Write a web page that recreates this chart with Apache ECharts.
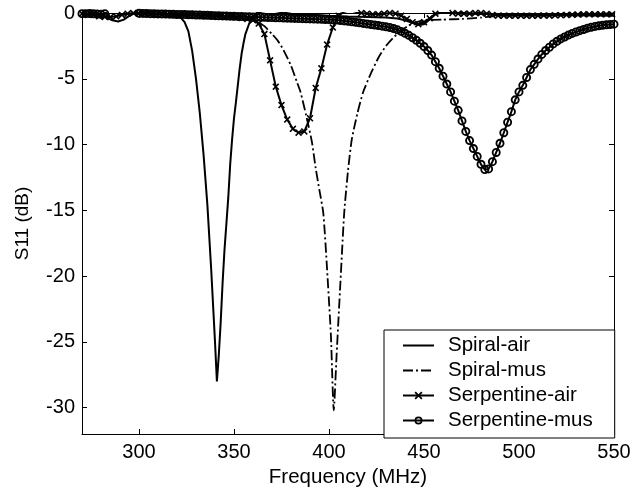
<!DOCTYPE html>
<html>
<head>
<meta charset="utf-8">
<script src="https://cdn.jsdelivr.net/npm/echarts@6/dist/echarts.min.js"></script>
<style>
html,body{margin:0;padding:0;background:#fff;}
#chart{width:644px;height:500px;}
</style>
</head>
<body>
<div id="chart"></div>
<script>
const xTicks = [300, 350, 400, 450, 500, 550];
const yTicks = [0, -5, -10, -15, -20, -25, -30];
const seriesNames = ['Spiral-air', 'Spiral-mus', 'Serpentine-air', 'Serpentine-mus'];

const spiralAirF  = [270,276,280,283,286,289,292,295,298,302,310,316,320,322,324,326,328,330,332,334,336,338,340,341,342,343,344,345,346,347,348,349,350,351,352,353,354,355,356,358,360,362,366,370,375,380,390,400,410,420,430,436,440,444,447,450,453,456,460,466,475,490,510,530,550];
const spiralAirDb = [-0.02,-0.05,-0.15,-0.35,-0.55,-0.65,-0.5,-0.2,0.0,0.05,-0.05,-0.1,-0.2,-0.35,-0.7,-1.4,-2.9,-5.0,-7.6,-10.8,-14.6,-19.5,-25.0,-28.0,-26.0,-23.5,-20.5,-18.0,-16.0,-14.0,-11.5,-9.6,-8.0,-6.8,-5.5,-4.2,-3.1,-2.3,-1.6,-0.8,-0.3,0.0,0.15,0.2,0.05,-0.05,-0.12,-0.2,-0.26,-0.3,-0.35,-0.42,-0.55,-0.75,-0.9,-0.85,-0.5,-0.1,0.08,0.05,-0.05,-0.1,-0.15,-0.18,-0.2];

const spiralMusF  = [270,290,310,330,350,356,360,362,366,370,373,376,380,383,385,388,391,393,395,397,399,401,402.5,404,406,408,410,412,415,418,422,426,430,434,438,442,446,450,460,470,480,490,500,520,550];
const spiralMusDb = [-0.05,-0.08,-0.1,-0.15,-0.2,-0.25,-0.4,-0.6,-1.0,-1.6,-2.1,-2.8,-4.0,-5.2,-6.0,-7.8,-9.8,-11.8,-13.5,-15.2,-19.5,-24.5,-30.2,-26.0,-20.5,-15.2,-12.0,-9.6,-7.6,-6.0,-4.6,-3.4,-2.5,-1.85,-1.35,-0.95,-0.7,-0.55,-0.5,-0.45,-0.35,-0.2,-0.15,-0.1,-0.05];

const serpAirF  = [270,273,276,279,282,285,288,291,294,297,300,303,306,309,312,315,318,321,324,327,330,333,336,339,342,345,348,351,354,357,360,363,366,369,372,375,378,381,384,387,390,393,396,399,402,405,408,411,414,417,420,423,426,429,432,435,438,441,444,447,450,453,456,459,462,465,468,471,474,477,480,483,486,489,492,495,498,501,504,507,510,513,516,519,522,525,528,531,534,537,540,543,546,549];
const serpAirDb = [-0.05,-0.1,-0.15,-0.25,-0.3,-0.3,-0.25,-0.15,-0.05,0.0,-0.02,-0.04,-0.06,-0.08,-0.1,-0.11,-0.13,-0.14,-0.15,-0.17,-0.18,-0.2,-0.21,-0.23,-0.25,-0.27,-0.3,-0.33,-0.38,-0.45,-0.55,-0.8,-1.6,-3.6,-5.6,-7.0,-8.1,-8.8,-9.1,-9.0,-8.0,-5.7,-4.2,-2.4,-1.1,-0.2,0.1,0.2,0.1,0.0,-0.05,-0.1,-0.1,-0.05,0.0,-0.05,-0.2,-0.45,-0.7,-0.85,-0.7,-0.4,-0.05,0.05,0.05,0.0,-0.05,-0.05,-0.05,0.0,0.0,-0.05,-0.15,-0.2,-0.2,-0.21,-0.2,-0.2,-0.21,-0.2,-0.2,-0.19,-0.2,-0.18,-0.17,-0.15,-0.13,-0.12,-0.1,-0.1,-0.1,-0.1,-0.1,-0.1];

const serpMusF  = [270,272,274,276,278,280,282,284,286,288,290,292,294,296,298,300,302,304,306,308,310,312,314,316,318,320,322,324,326,328,330,332,334,336,338,340,342,344,346,348,350,352,354,356,358,360,362,364,366,368,370,372,374,376,378,380,382,384,386,388,390,392,394,396,398,400,402,404,406,408,410,412,414,416,418,420,422,424,426,428,430,432,434,436,438,440,442,444,446,448,450,452,454,456,458,460,462,464,466,468,470,472,474,476,478,480,482,484,486,488,490,492,494,496,498,500,502,504,506,508,510,512,514,516,518,520,522,524,526,528,530,532,534,536,538,540,542,544,546,548,550];
const serpMusDb = [-0.05,-0.05,-0.04,-0.06,-0.08,-0.1,-0.05,0.3,0.4,0.45,0.45,0.4,0.35,0.25,0.1,-0.02,-0.03,-0.04,-0.05,-0.06,-0.07,-0.07,-0.08,-0.09,-0.1,-0.11,-0.11,-0.12,-0.13,-0.14,-0.15,-0.16,-0.17,-0.18,-0.19,-0.2,-0.21,-0.22,-0.23,-0.24,-0.25,-0.26,-0.27,-0.28,-0.29,-0.3,-0.31,-0.32,-0.33,-0.34,-0.35,-0.36,-0.37,-0.38,-0.39,-0.4,-0.41,-0.42,-0.43,-0.44,-0.45,-0.46,-0.47,-0.48,-0.49,-0.5,-0.52,-0.54,-0.57,-0.6,-0.63,-0.67,-0.71,-0.75,-0.79,-0.83,-0.87,-0.91,-0.95,-1.0,-1.05,-1.1,-1.18,-1.28,-1.4,-1.54,-1.7,-1.88,-2.08,-2.3,-2.55,-2.85,-3.2,-3.7,-4.2,-4.8,-5.4,-6.0,-6.7,-7.4,-8.2,-9.0,-9.7,-10.3,-10.9,-11.5,-11.9,-11.85,-11.3,-10.6,-9.9,-9.1,-8.3,-7.5,-6.6,-6.0,-5.5,-4.9,-4.3,-3.9,-3.5,-3.15,-2.85,-2.6,-2.35,-2.15,-1.97,-1.82,-1.68,-1.55,-1.44,-1.34,-1.25,-1.15,-1.08,-1.02,-0.97,-0.93,-0.9,-0.87,-0.85];

function zip(f, d) { return f.map((v, i) => [v, d[i]]); }

const xSymbol = 'path://M0,1.6L1.6,0L5,3.4L8.4,0L10,1.6L6.6,5L10,8.4L8.4,10L5,6.6L1.6,10L0,8.4L3.4,5Z';
const ringSymbol = 'path://M5,0A5,5 0 1,0 5,10A5,5 0 1,0 5,0ZM5,2.1A2.9,2.9 0 1,1 5,7.9A2.9,2.9 0 1,1 5,2.1Z';

const FONT = 'Liberation Sans, Arial, Helvetica, sans-serif';
const chart = echarts.init(document.getElementById('chart'), null, {renderer: 'canvas'});

const axisLineStyle = {show: true, onZero: false, lineStyle: {color: '#000', width: 1}};

chart.setOption({
  animation: false,
  backgroundColor: '#fff',
  grid: {left: 82, right: 30, top: 13, bottom: 66, containLabel: false},
  xAxis: [{
    type: 'value', min: 270, max: 550, position: 'bottom',
    axisLine: axisLineStyle,
    axisTick: {show: true, inside: true, length: 5, customValues: xTicks, lineStyle: {color: '#000'}},
    axisLabel: {customValues: xTicks, fontSize: 20, color: '#000', fontFamily: FONT, margin: 8},
    splitLine: {show: false},
    name: 'Frequency (MHz)', nameLocation: 'middle', nameGap: 32,
    nameTextStyle: {fontSize: 20.5, color: '#000', fontFamily: FONT}
  }, {
    type: 'value', min: 270, max: 550, position: 'top',
    axisLine: axisLineStyle,
    axisTick: {show: true, inside: true, length: 5, customValues: xTicks, lineStyle: {color: '#000'}},
    axisLabel: {show: false},
    splitLine: {show: false}
  }],
  yAxis: [{
    type: 'value', min: -32, max: 0, position: 'left',
    axisLine: axisLineStyle,
    axisTick: {show: true, inside: true, length: 5, customValues: yTicks, lineStyle: {color: '#000'}},
    axisLabel: {customValues: yTicks, fontSize: 20, color: '#000', fontFamily: FONT, margin: 7},
    splitLine: {show: false},
    name: 'S11 (dB)', nameLocation: 'middle', nameGap: 50,
    nameTextStyle: {fontSize: 19, color: '#000', fontFamily: FONT}
  }, {
    type: 'value', min: -32, max: 0, position: 'right',
    axisLine: axisLineStyle,
    axisTick: {show: true, inside: true, length: 5, customValues: yTicks, lineStyle: {color: '#000'}},
    axisLabel: {show: false},
    splitLine: {show: false}
  }],
  legend: {
    orient: 'vertical', left: 384, top: 330,
    padding: [5, 22, 7, 18], itemGap: 4,
    itemWidth: 31, itemHeight: 10,
    backgroundColor: '#fff', borderColor: '#000', borderWidth: 1, borderRadius: 0,
    textStyle: {fontSize: 20.5, lineHeight: 20, color: '#000', fontFamily: FONT, padding: [0, 0, 0, 9]},
    data: [
      {name: seriesNames[0], itemStyle: {opacity: 0}},
      {name: seriesNames[1], itemStyle: {opacity: 0}},
      {name: seriesNames[2]},
      {name: seriesNames[3]}
    ]
  },
  series: [{
    name: seriesNames[0], type: 'line', data: zip(spiralAirF, spiralAirDb),
    symbol: 'none', clip: true,
    lineStyle: {color: '#000', width: 2}, itemStyle: {color: '#000'}
  }, {
    name: seriesNames[1], type: 'line', data: zip(spiralMusF, spiralMusDb),
    symbol: 'none', clip: true, smooth: 0.2,
    lineStyle: {color: '#000', width: 1.8, type: [10, 3, 2, 3]}, itemStyle: {color: '#000'}
  }, {
    name: seriesNames[2], type: 'line', data: zip(serpAirF, serpAirDb),
    symbol: xSymbol, symbolSize: 7, showAllSymbol: true, clip: true,
    lineStyle: {color: '#000', width: 2}, itemStyle: {color: '#000'}
  }, {
    name: seriesNames[3], type: 'line', data: zip(serpMusF, serpMusDb),
    symbol: ringSymbol, symbolSize: 9, showAllSymbol: true, clip: true,
    lineStyle: {color: '#000', width: 2}, itemStyle: {color: '#000'}
  }]
});
</script>
</body>
</html>
